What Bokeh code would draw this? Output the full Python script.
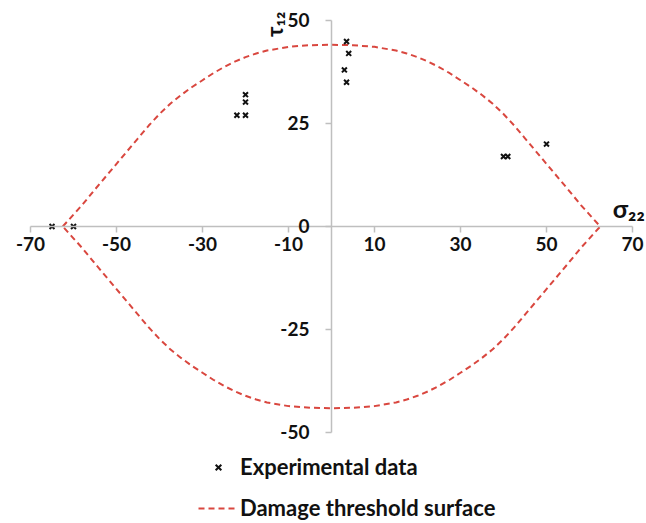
import math
from bokeh.plotting import figure
from bokeh.models import (Range1d, LinearAxis, FixedTicker, Label, Legend, LegendItem,
                          PrintfTickFormatter)
from bokeh.embed import file_html
from bokeh.resources import INLINE

# ---- data ----
x_ticks = [-70, -50, -30, -10, 10, 30, 50, 70]
y_ticks = [-50, -25, 0, 25, 50]

exp_sigma = [-65, -60, -22, -20, -20, -20, 3.5, 4.0, 3.0, 3.5, 40.0, 41.0, 50.0]
exp_tau = [0, 0, 27.0, 27.0, 30.2, 32.0, 44.9, 42.0, 38.0, 35.0, 17.0, 17.0, 20.0]

# damage threshold surface, read as a closed loop
curve_sigma = [-62.5, -58, -55, -50, -45, -42.5, -40, -37.5, -35, -32.5, -30, -27.5, -25,
               -22.5, -20, -17.5, -15, -10, -5, 0,
               5, 10, 15, 17.5, 20, 22.5, 25, 27.5, 30, 32.5, 35, 37.5, 40, 42.5, 45,
               50, 55, 58, 62.5,
               58, 55, 50, 45, 42.5, 40, 37.5, 35, 32.5, 30, 27.5, 25, 22.5, 20, 17.5, 15,
               10, 5, 0,
               -5, -10, -15, -17.5, -20, -22.5, -25, -27.5, -30, -32.5, -35, -37.5, -40,
               -42.5, -45, -50, -55, -58, -62.5]
curve_tau = [0, 5.2, 9.0, 15.2, 21.4, 24.5, 27.3, 29.8, 31.9, 33.8, 35.5, 37.2, 38.7,
             40.0, 41.1, 42.0, 42.7, 43.6, 44.0, 44.1,
             44.0, 43.6, 42.7, 42.0, 41.1, 40.0, 38.7, 37.2, 35.5, 33.8, 31.9, 29.8, 27.3, 24.5, 21.4,
             15.2, 9.0, 5.2, 0,
             -5.2, -9.0, -15.2, -21.4, -24.5, -27.3, -29.8, -31.9, -33.8, -35.5, -37.2, -38.7,
             -40.0, -41.1, -42.0, -42.7, -43.6, -44.0, -44.1,
             -44.0, -43.6, -42.7, -42.0, -41.1, -40.0, -38.7, -37.2, -35.5, -33.8, -31.9, -29.8,
             -27.3, -24.5, -21.4, -15.2, -9.0, -5.2, 0]

FONT = "Lato"
RED = "#d9473f"
AXIS_GRAY = "#bfbfbf"

p = figure(width=646, height=523, x_range=Range1d(-76.98, 73.26), y_range=Range1d(-72.09, 54.85),
           output_backend="svg", toolbar_location=None, min_border=0,
           x_axis_type=None, y_axis_type=None)
p.outline_line_color = None
p.background_fill_color = "white"
p.border_fill_color = "white"

xaxis = LinearAxis(fixed_location=0, bounds=(-70, 70), ticker=FixedTicker(ticks=x_ticks),
                   formatter=PrintfTickFormatter(format="%d"))
yaxis = LinearAxis(fixed_location=0, bounds=(-50, 50), ticker=FixedTicker(ticks=y_ticks),
                   formatter=PrintfTickFormatter(format="%d"))
for ax in (xaxis, yaxis):
    ax.axis_line_color = AXIS_GRAY
    ax.axis_line_width = 1.5
    ax.major_tick_line_color = AXIS_GRAY
    ax.major_tick_line_width = 1.5
    ax.major_tick_in = 0
    ax.major_tick_out = 6
    ax.minor_tick_line_color = None
    ax.major_label_text_font = FONT
    ax.major_label_text_font_style = "bold"
    ax.major_label_text_font_size = "19px"
    ax.major_label_text_color = "#111111"
xaxis.major_label_standoff = 5
yaxis.major_label_standoff = 16
p.add_layout(xaxis, "below")
p.add_layout(yaxis, "left")

curve = p.line(curve_sigma, curve_tau, line_color=RED, line_width=2, line_dash="6 4")
pts = p.scatter(exp_sigma, exp_tau, marker="x", size=7, line_width=2, color="#111111")

p.add_layout(Label(x=-13.3, y=46.0, text="τ₁₂", angle=math.pi / 2, text_font=FONT,
                   text_font_style="bold", text_font_size="22px", text_baseline="middle",
                   text_align="left", text_color="#111111"))
p.add_layout(Label(x=65.4, y=4.6, text="σ₂₂", text_font=FONT,
                   text_font_style="bold", text_font_size="25px", text_baseline="alphabetic",
                   text_align="left", text_color="#111111"))

legend = Legend(items=[LegendItem(label="Experimental data", renderers=[pts]),
                       LegendItem(label="Damage threshold surface", renderers=[curve])],
                location=(198, 2), orientation="vertical")
legend.border_line_color = None
legend.background_fill_alpha = 0
legend.padding = 0
legend.margin = 0
legend.spacing = 14
legend.glyph_width = 40
legend.glyph_height = 20
legend.label_height = 20
legend.label_standoff = 2
legend.label_text_font = FONT
legend.label_text_font_style = "bold"
legend.label_text_font_size = "22px"
legend.label_text_color = "#111111"
p.add_layout(legend, "center")

open("out.html", "w").write(file_html(p, INLINE))
